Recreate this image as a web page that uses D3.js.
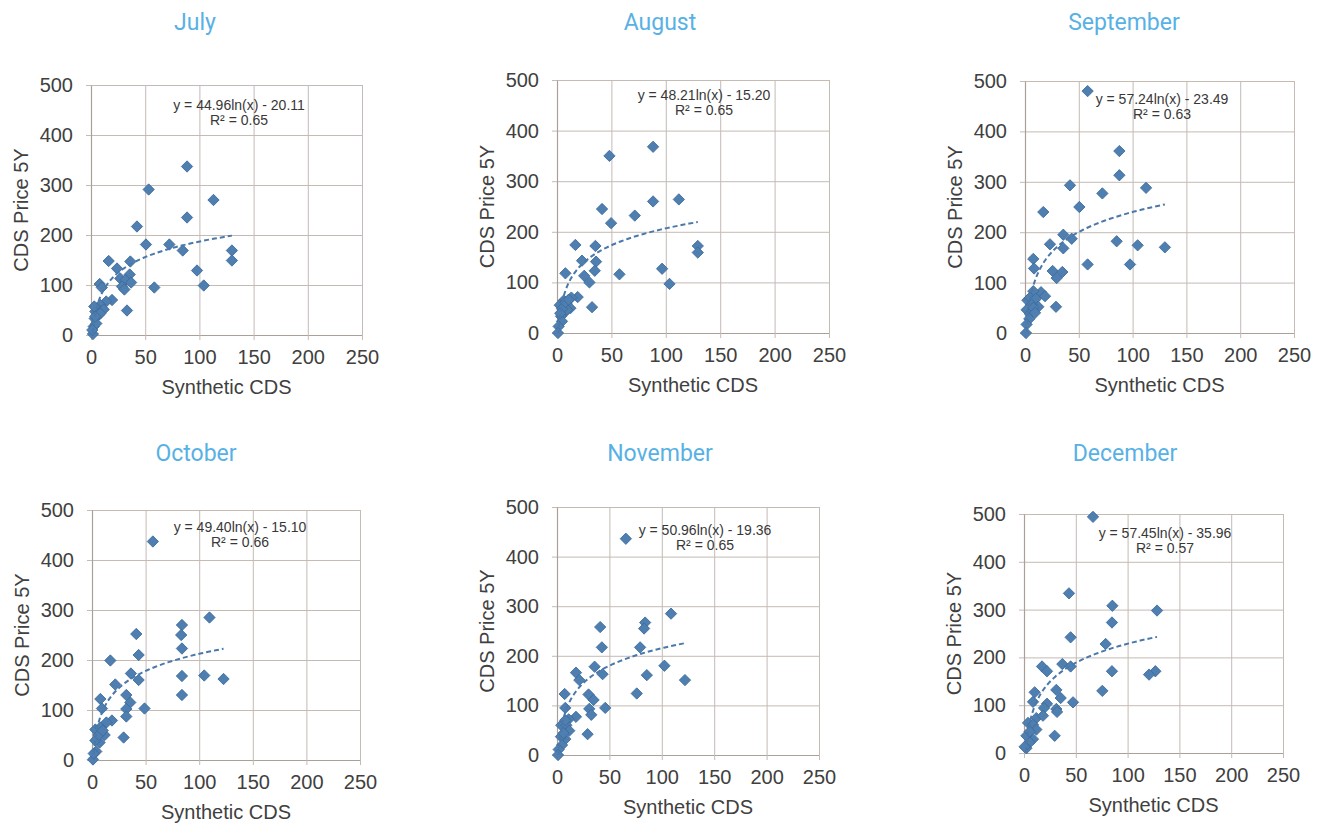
<!DOCTYPE html>
<html>
<head>
<meta charset="utf-8">
<script src="https://cdn.jsdelivr.net/npm/d3@7"></script>
<style>
body { margin: 0; background: #fff; }
svg { display: block; }
</style>
</head>
<body>
<script>
/* Define width and height */
var width = 1327,
    height = 823;

/* Panel titles */
var months = ["July", "August", "September", "October", "November", "December"];

/* Tick values shared by every panel */
var xTicks = [0, 50, 100, 150, 200, 250];
var yTicks = [0, 100, 200, 300, 400, 500];

/* Points: Synthetic CDS (x) vs CDS Price 5Y (y) */
var julyX = [88.6, 53.2, 113, 88.6, 42.4, 50.7, 72.3, 84.6, 130, 130, 16.3, 36.3, 24, 97.8, 35.7, 27, 31.7, 37, 28.6, 30.8, 58.4, 104, 8, 10, 33.2, 19.4, 14, 8.6, 5.5, 11.7, 4, 3.4, 7, 2.5, 1.8, 4.9, 3, 1.2, 8.6, 4];
var julyY = [337, 291, 270, 235, 217, 181, 181, 169, 169, 149, 148, 147, 133, 129, 121, 113, 110, 105, 97, 91, 95, 99, 102, 95, 49, 70, 67, 60, 53, 51, 47, 33, 40, 17, 2, 23, 57, 10, 43, 37];

var augustX = [88.3, 48.2, 112, 88.3, 41.4, 71.5, 49.7, 16.9, 35.3, 129.4, 129.4, 23, 35.9, 34.7, 96.6, 7.7, 25, 57.4, 29.8, 103.4, 19, 13.2, 32.2, 6.1, 8.6, 2.5, 12.3, 6.1, 9.2, 3.7, 4.6, 1.5, 0.9, 4.6, 7.7, 10.7, 3];
var augustY = [368, 350, 264, 260, 245, 232, 217, 174, 172, 172, 159, 143, 141, 123, 127, 118, 113, 116, 100, 97, 71, 70, 51, 64, 58, 55, 49, 39, 46, 33, 23, 13, 0, 48, 61, 66, 39];

var septemberX = [58.2, 87.7, 87.7, 112.5, 41.8, 71.9, 50.5, 17, 35.6, 43.4, 23.2, 85.2, 104.7, 130, 35.6, 7.7, 8.4, 58.2, 97.6, 25.7, 34.7, 29.4, 14.9, 18.6, 28.8, 7.7, 2.2, 4.6, 10.2, 12.4, 6.2, 1.5, 4.6, 4, 1.5, 0.9, 7.7, 9.3];
var septemberY = [480, 361, 313, 288, 293, 277, 250, 240, 195, 187, 176, 182, 174, 170, 168, 147, 128, 136, 136, 123, 121, 109, 81, 73, 52, 83, 65, 70, 68, 52, 56, 46, 38, 28, 17, 0, 50, 40];

var octoberX = [56.8, 109.6, 83.9, 41.3, 83.2, 83.9, 43.5, 17.1, 122.7, 36.3, 104.7, 83.9, 43.5, 21.7, 83.9, 32, 7.8, 35.7, 9.3, 32, 49, 32, 18.6, 13.4, 29.5, 3.1, 7.8, 11.8, 7.1, 3.1, 4, 0.9, 1.6, 6.2, 10];
var octoberY = [437, 285, 270, 252, 250, 223, 210, 199, 162, 173, 169, 168, 160, 151, 130, 130, 122, 115, 103, 102, 103, 87, 79, 75, 45, 61, 65, 50, 35, 39, 17, 1, 13, 50, 59];

var novemberX = [65.7, 108.8, 84.1, 83.1, 41.2, 42.8, 79.3, 102.5, 35.9, 18.1, 43.5, 85.7, 122.1, 21.3, 76.1, 7.3, 30.1, 34.9, 7.9, 30.8, 46, 32.7, 18.1, 11.1, 29.2, 4.1, 8.9, 11.7, 7.9, 3.8, 4.8, 1.6, 1, 6.3, 7.9];
var novemberY = [436, 285, 267, 255, 258, 217, 217, 180, 178, 166, 163, 161, 151, 151, 124, 123, 122, 111, 95, 93, 95, 81, 77, 72, 42, 60, 60, 49, 32, 37, 20, 11, 0, 44, 70];

var decemberX = [66.6, 43.4, 85.3, 128.4, 84.9, 45, 78.8, 37, 45, 17.4, 22.2, 84.9, 126.8, 120.7, 31.2, 75.6, 10.3, 8.7, 35.4, 47.3, 22.2, 19.3, 31.2, 31.9, 11.9, 18.3, 29.6, 3.9, 8.7, 11.9, 8.7, 2.3, 5.5, 2.3, 0.6, 5.5];
var decemberY = [494, 334, 308, 298, 273, 242, 228, 186, 181, 181, 171, 171, 171, 164, 132, 130, 127, 107, 115, 106, 103, 94, 92, 86, 73, 78, 36, 63, 59, 49, 29, 36, 22, 10, 13, 45];

/* Logarithmic trendline coefficients and R² shown on each panel */
var slopes = [44.96, 48.21, 57.24, 49.40, 50.96, 57.45];
var intercepts = [-20.11, -15.20, -23.49, -15.10, -19.36, -35.96];
var rSquared = [0.65, 0.65, 0.63, 0.66, 0.65, 0.57];

var seriesX = [julyX, augustX, septemberX, octoberX, novemberX, decemberX];
var seriesY = [julyY, augustY, septemberY, octoberY, novemberY, decemberY];

/* Where each panel sits on the page */
var layout = [
    {left: 91,   right: 362,  top: 85,  bottom: 335, titleX: 195,  titleY: 22,  eqX: 239,  eqY: 105},
    {left: 557,  right: 829,  top: 80,  bottom: 333, titleX: 660,  titleY: 22,  eqX: 704,  eqY: 95},
    {left: 1025, right: 1294, top: 81,  bottom: 333, titleX: 1124, titleY: 22,  eqX: 1162, eqY: 99},
    {left: 92,   right: 360,  top: 510, bottom: 760, titleX: 196,  titleY: 453, eqX: 240,  eqY: 527},
    {left: 557,  right: 819,  top: 507, bottom: 755, titleX: 660,  titleY: 453, eqX: 705,  eqY: 530},
    {left: 1024, right: 1283, top: 514, bottom: 753, titleX: 1125, titleY: 453, eqX: 1165, eqY: 533}
];

var fontFamily = "'Liberation Sans', Arial, sans-serif";
var gridColor = "#c4bbb5";
var axisColor = "#aaa09a";
var textColor = "#404040";
var markerFill = "#4f7fb0";
var markerStroke = "#3c6a99";

/* Define and append svg */
var svg = d3.select("body").append("svg")
    .attr("width", width)
    .attr("height", height);

months.forEach(function(month, i) {
    var box = layout[i];
    var w = box.right - box.left,
        h = box.bottom - box.top;

    var x = d3.scaleLinear().domain([0, 250]).range([0, w]);
    var y = d3.scaleLinear().domain([0, 500]).range([h, 0]);

    /* Panel title */
    svg.append("text")
        .attr("x", box.titleX)
        .attr("y", box.titleY)
        .attr("dy", "0.35em")
        .attr("text-anchor", "middle")
        .attr("font-family", "Roboto, 'Open Sans', sans-serif")
        .attr("font-size", 23)
        .attr("fill", "#58b1e4")
        .text(month);

    var g = svg.append("g")
        .attr("transform", "translate(" + box.left + "," + box.top + ")");

    g.append("clipPath")
        .attr("id", "clip" + i)
        .append("rect")
        .attr("width", w)
        .attr("height", h);

    /* Gridlines */
    var gridY = g.append("g")
        .call(d3.axisLeft(y).tickValues(yTicks).tickSize(-w).tickFormat(""));
    var gridX = g.append("g")
        .attr("transform", "translate(0," + h + ")")
        .call(d3.axisBottom(x).tickValues(xTicks).tickSize(-h).tickFormat(""));
    [gridY, gridX].forEach(function(gr) {
        gr.select(".domain").remove();
        gr.selectAll(".tick line").attr("stroke", gridColor).attr("stroke-width", 1);
    });

    /* Labelled axes */
    var yAxis = g.append("g")
        .call(d3.axisLeft(y).tickValues(yTicks).tickSize(5).tickSizeOuter(0).tickPadding(13));
    var xAxis = g.append("g")
        .attr("transform", "translate(0," + h + ")")
        .call(d3.axisBottom(x).tickValues(xTicks).tickSize(5).tickSizeOuter(0).tickPadding(10));
    [yAxis, xAxis].forEach(function(ax) {
        ax.select(".domain").attr("stroke", axisColor).attr("stroke-width", 1.2);
        ax.selectAll(".tick line").attr("stroke", gridColor);
        ax.selectAll(".tick text")
            .attr("fill", textColor)
            .attr("font-family", fontFamily)
            .attr("font-size", 20);
    });

    /* Axis titles */
    g.append("text")
        .attr("transform", "translate(" + (-70) + "," + (h / 2) + ") rotate(-90)")
        .attr("dy", "0.35em")
        .attr("text-anchor", "middle")
        .attr("font-family", fontFamily)
        .attr("font-size", 20)
        .attr("fill", textColor)
        .text("CDS Price 5Y");

    g.append("text")
        .attr("x", w / 2)
        .attr("y", h + 52)
        .attr("dy", "0.35em")
        .attr("text-anchor", "middle")
        .attr("font-family", fontFamily)
        .attr("font-size", 20)
        .attr("fill", textColor)
        .text("Synthetic CDS");

    /* Scatter markers */
    var points = seriesX[i].map(function(v, k) { return [v, seriesY[i][k]]; });
    g.append("g")
        .selectAll("path")
        .data(points)
        .enter()
        .append("path")
        .attr("d", d3.symbol().type(d3.symbolSquare).size(64))
        .attr("transform", function(d) {
            return "translate(" + x(d[0]) + "," + y(d[1]) + ") rotate(45)";
        })
        .attr("fill", markerFill)
        .attr("stroke", markerStroke)
        .attr("stroke-width", 0.8);

    /* Logarithmic trendline over the data's x extent */
    var ext = d3.extent(seriesX[i]);
    var steps = d3.range(0, 81).map(function(k) {
        var xv = Math.exp(Math.log(ext[0]) + (Math.log(ext[1]) - Math.log(ext[0])) * k / 80);
        return [xv, slopes[i] * Math.log(xv) + intercepts[i]];
    });
    g.append("path")
        .datum(steps)
        .attr("clip-path", "url(#clip" + i + ")")
        .attr("fill", "none")
        .attr("stroke", "#4a78aa")
        .attr("stroke-width", 2)
        .attr("stroke-dasharray", "5,3")
        .attr("d", d3.line()
            .x(function(d) { return x(d[0]); })
            .y(function(d) { return y(d[1]); }));

    /* Trendline equation label */
    var eq = svg.append("text")
        .attr("x", box.eqX)
        .attr("y", box.eqY)
        .attr("dy", "0.35em")
        .attr("text-anchor", "middle")
        .attr("font-family", fontFamily)
        .attr("font-size", 14)
        .attr("fill", "#383838");
    eq.append("tspan")
        .attr("x", box.eqX)
        .text("y = " + slopes[i].toFixed(2) + "ln(x) - " + Math.abs(intercepts[i]).toFixed(2));
    eq.append("tspan")
        .attr("x", box.eqX)
        .attr("dy", 15)
        .text("R² = " + rSquared[i].toFixed(2));
});
</script>
</body>
</html>
